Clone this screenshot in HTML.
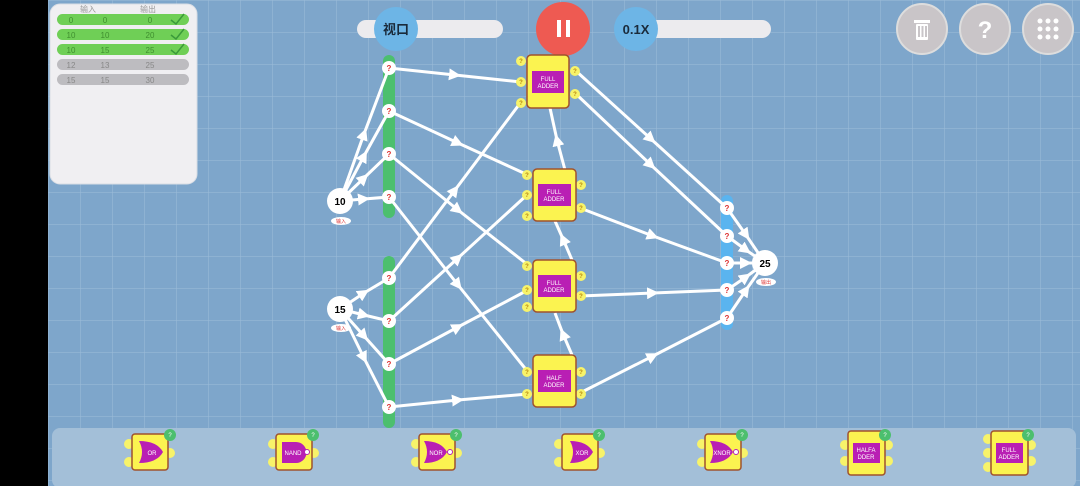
<!DOCTYPE html>
<html><head><meta charset="utf-8"><style>
html,body{margin:0;padding:0;width:1080px;height:486px;overflow:hidden;background:#000;font-family:"Liberation Sans","Noto Sans CJK SC",sans-serif}
</style></head><body>
<svg width="1080" height="486" viewBox="0 0 1080 486" xmlns="http://www.w3.org/2000/svg" font-family="Liberation Sans, Noto Sans CJK SC, sans-serif">
<defs>
<pattern id="g" width="32" height="32" patternUnits="userSpaceOnUse" x="48">
<path d="M0 0V32M0 0H32" stroke="#9dbdd9" stroke-width="1" fill="none"/>
</pattern>
<marker id="ar" viewBox="0 0 10 10" refX="5" refY="5" markerWidth="4" markerHeight="4" orient="auto"><path d="M0 0L10 5L0 10z" fill="#fff"/></marker>
</defs>
<rect x="48" y="0" width="1032" height="486" fill="#7ea6cb"/>
<rect x="48" y="0" width="1032" height="486" fill="url(#g)"/>

<!-- panel -->
<rect x="50" y="4" width="147" height="180" rx="10" fill="#f0eff2" stroke="#d8dde4"/>
<text x="88" y="12" font-size="8" fill="#999" text-anchor="middle">输入</text>
<text x="148" y="12" font-size="8" fill="#999" text-anchor="middle">输出</text>
<g font-size="8" text-anchor="middle">
<rect x="57" y="14" width="132" height="11" rx="5.5" fill="#6fcf56"/>
<text x="71" y="23" fill="#3f8f2f">0</text><text x="105" y="23" fill="#3f8f2f">0</text><text x="150" y="23" fill="#3f8f2f">0</text>
<rect x="57" y="29" width="132" height="11" rx="5.5" fill="#6fcf56"/>
<text x="71" y="38" fill="#3f8f2f">10</text><text x="105" y="38" fill="#3f8f2f">10</text><text x="150" y="38" fill="#3f8f2f">20</text>
<rect x="57" y="44" width="132" height="11" rx="5.5" fill="#6fcf56"/>
<text x="71" y="53" fill="#3f8f2f">10</text><text x="105" y="53" fill="#3f8f2f">15</text><text x="150" y="53" fill="#3f8f2f">25</text>
<rect x="57" y="59" width="132" height="11" rx="5.5" fill="#bdbcc0"/>
<text x="71" y="68" fill="#888">12</text><text x="105" y="68" fill="#888">13</text><text x="150" y="68" fill="#888">25</text>
<rect x="57" y="74" width="132" height="11" rx="5.5" fill="#bdbcc0"/>
<text x="71" y="83" fill="#888">15</text><text x="105" y="83" fill="#888">15</text><text x="150" y="83" fill="#888">30</text>
</g>
<g stroke="#3a9a3a" stroke-width="1.5" fill="none">
<path d="M171 20l5 4l8-10"/><path d="M171 35l5 4l8-10"/><path d="M171 50l5 4l8-10"/>
</g>

<!-- top bar -->
<rect x="357" y="20" width="146" height="18" rx="9" fill="#ecebee"/>
<circle cx="396" cy="29" r="22" fill="#6db5e6"/>
<text x="396" y="34" font-size="13" font-weight="bold" text-anchor="middle" fill="#1a2a3a">视口</text>
<circle cx="563" cy="29" r="27" fill="#ee5a52"/>
<rect x="557" y="20" width="4" height="17" fill="#fff"/><rect x="566" y="20" width="4" height="17" fill="#fff"/>
<rect x="620" y="20" width="151" height="18" rx="9" fill="#ecebee"/>
<circle cx="636" cy="29" r="22" fill="#6db5e6"/>
<text x="636" y="34" font-size="13" font-weight="bold" text-anchor="middle" fill="#1a2a3a">0.1X</text>
<g fill="#c9c5c8" stroke="#ddd" stroke-width="2">
<circle cx="922" cy="29" r="25"/><circle cx="985" cy="29" r="25"/><circle cx="1048" cy="29" r="25"/></g>
<g fill="#fff">
<rect x="914" y="20" width="16" height="3"/><rect x="916" y="24" width="12" height="16" rx="1"/>
<text x="985" y="38" font-size="24" font-weight="bold" text-anchor="middle">?</text>
<g><circle cx="1040" cy="21" r="2.5"/><circle cx="1048" cy="21" r="2.5"/><circle cx="1056" cy="21" r="2.5"/><circle cx="1040" cy="29" r="2.5"/><circle cx="1048" cy="29" r="2.5"/><circle cx="1056" cy="29" r="2.5"/><circle cx="1040" cy="37" r="2.5"/><circle cx="1048" cy="37" r="2.5"/><circle cx="1056" cy="37" r="2.5"/></g>
</g>
<rect x="918" y="26" width="2" height="11" fill="#c9c5c8"/><rect x="921.5" y="26" width="2" height="11" fill="#c9c5c8"/><rect x="925" y="26" width="2" height="11" fill="#c9c5c8"/>

<!-- bars -->
<rect x="383" y="55" width="12" height="163" rx="6" fill="#4cbf6e"/>
<rect x="383" y="256" width="12" height="172" rx="6" fill="#4cbf6e"/>
<rect x="721" y="195" width="12" height="135" rx="6" fill="#5ab4ef"/>

<!-- wires -->
<g stroke="#fff" stroke-width="3" fill="none" marker-mid="url(#ar)">
<path d="M340 201L364 134L389 68"/><path d="M340 201L364 156L389 111"/><path d="M340 201L364 178L389 154"/><path d="M340 201L364 199L389 197"/>
<path d="M340 309L364 293L389 278"/><path d="M340 309L364 315L389 321"/><path d="M340 309L364 336L389 364"/><path d="M340 309L364 358L389 407"/>
<path d="M389 68L455 75L521 82"/><path d="M389 111L458 143L528 175"/><path d="M389 154L458 210L528 265"/><path d="M389 197L458 285L528 372"/>
<path d="M389 278L455 190L521 102"/><path d="M389 321L458 258L528 194"/><path d="M389 364L458 327L528 290"/><path d="M389 407L458 400L528 394"/>
<path d="M576 71L651 139L727 208"/><path d="M576 94L651 165L727 236"/>
<path d="M580 208L653 236L727 263"/><path d="M580 296L653 293L727 290"/><path d="M580 393L653 356L727 318"/>
<path d="M572 355L563 334L555 313"/><path d="M572 260L563 239L555 221"/><path d="M565 170L557 140L550 108"/>
<path d="M727 208L746 235L765 263"/><path d="M727 236L746 250L765 263"/><path d="M727 263L746 263L765 263"/><path d="M727 290L746 277L765 263"/><path d="M727 318L746 290L765 263"/>
</g>

<!-- pins -->
<g fill="#fff" font-size="8" text-anchor="middle">
<circle cx="389" cy="68" r="7"/><circle cx="389" cy="111" r="7"/><circle cx="389" cy="154" r="7"/><circle cx="389" cy="197" r="7"/>
<circle cx="389" cy="278" r="7"/><circle cx="389" cy="321" r="7"/><circle cx="389" cy="364" r="7"/><circle cx="389" cy="407" r="7"/>
<circle cx="727" cy="208" r="7"/><circle cx="727" cy="236" r="7"/><circle cx="727" cy="263" r="7"/><circle cx="727" cy="290" r="7"/><circle cx="727" cy="318" r="7"/>
</g>
<g fill="#d33" font-size="8" text-anchor="middle" font-weight="bold">
<text x="389" y="71">?</text><text x="389" y="114">?</text><text x="389" y="157">?</text><text x="389" y="200">?</text>
<text x="389" y="281">?</text><text x="389" y="324">?</text><text x="389" y="367">?</text><text x="389" y="410">?</text>
<text x="727" y="211">?</text><text x="727" y="239">?</text><text x="727" y="266">?</text><text x="727" y="293">?</text><text x="727" y="321">?</text>
</g>

<!-- io nodes -->
<circle cx="340" cy="201" r="13" fill="#fff"/><text x="340" y="205" font-size="10" font-weight="bold" text-anchor="middle">10</text>
<ellipse cx="341" cy="221" rx="10" ry="4" fill="#fff"/><text x="341" y="223" font-size="5" fill="#d33" text-anchor="middle">输入</text>
<circle cx="340" cy="309" r="13" fill="#fff"/><text x="340" y="313" font-size="10" font-weight="bold" text-anchor="middle">15</text>
<ellipse cx="341" cy="328" rx="10" ry="4" fill="#fff"/><text x="341" y="330" font-size="5" fill="#d33" text-anchor="middle">输入</text>
<circle cx="765" cy="263" r="13" fill="#fff"/><text x="765" y="267" font-size="10" font-weight="bold" text-anchor="middle">25</text>
<ellipse cx="766" cy="282" rx="10" ry="4" fill="#fff"/><text x="766" y="284" font-size="5" fill="#d33" text-anchor="middle">输出</text>

<!-- adders -->
<g font-size="6" text-anchor="middle">
<g transform="translate(527,55)">
<circle cx="-6" cy="6" r="5" fill="#f7f36a"/><circle cx="-6" cy="27" r="5" fill="#f7f36a"/><circle cx="-6" cy="48" r="5" fill="#f7f36a"/><circle cx="48" cy="16" r="5" fill="#f7f36a"/><circle cx="48" cy="39" r="5" fill="#f7f36a"/>
<g fill="#b8860b" font-weight="bold"><text x="-6" y="8">?</text><text x="-6" y="29">?</text><text x="-6" y="50">?</text><text x="48" y="18">?</text><text x="48" y="41">?</text></g>
<rect x="0" y="0" width="42" height="53" rx="4" fill="#fbf350" stroke="#a0522d" stroke-width="1.5"/>
<rect x="5" y="16" width="32" height="22" fill="#b91fb4"/><text x="21" y="26" fill="#fff">FULL</text><text x="21" y="33" fill="#fff">ADDER</text>
</g>
<g transform="translate(533,169)">
<circle cx="-6" cy="6" r="5" fill="#f7f36a"/><circle cx="-6" cy="26" r="5" fill="#f7f36a"/><circle cx="-6" cy="47" r="5" fill="#f7f36a"/><circle cx="48" cy="16" r="5" fill="#f7f36a"/><circle cx="48" cy="39" r="5" fill="#f7f36a"/>
<g fill="#b8860b" font-weight="bold"><text x="-6" y="8">?</text><text x="-6" y="28">?</text><text x="-6" y="49">?</text><text x="48" y="18">?</text><text x="48" y="41">?</text></g>
<rect x="0" y="0" width="43" height="52" rx="4" fill="#fbf350" stroke="#a0522d" stroke-width="1.5"/>
<rect x="5" y="15" width="33" height="22" fill="#b91fb4"/><text x="21" y="25" fill="#fff">FULL</text><text x="21" y="32" fill="#fff">ADDER</text>
</g>
<g transform="translate(533,260)">
<circle cx="-6" cy="6" r="5" fill="#f7f36a"/><circle cx="-6" cy="30" r="5" fill="#f7f36a"/><circle cx="-6" cy="47" r="5" fill="#f7f36a"/><circle cx="48" cy="16" r="5" fill="#f7f36a"/><circle cx="48" cy="36" r="5" fill="#f7f36a"/>
<g fill="#b8860b" font-weight="bold"><text x="-6" y="8">?</text><text x="-6" y="32">?</text><text x="-6" y="49">?</text><text x="48" y="18">?</text><text x="48" y="38">?</text></g>
<rect x="0" y="0" width="43" height="52" rx="4" fill="#fbf350" stroke="#a0522d" stroke-width="1.5"/>
<rect x="5" y="15" width="33" height="22" fill="#b91fb4"/><text x="21" y="25" fill="#fff">FULL</text><text x="21" y="32" fill="#fff">ADDER</text>
</g>
<g transform="translate(533,355)">
<circle cx="-6" cy="17" r="5" fill="#f7f36a"/><circle cx="-6" cy="39" r="5" fill="#f7f36a"/><circle cx="48" cy="17" r="5" fill="#f7f36a"/><circle cx="48" cy="39" r="5" fill="#f7f36a"/>
<g fill="#b8860b" font-weight="bold"><text x="-6" y="19">?</text><text x="-6" y="41">?</text><text x="48" y="19">?</text><text x="48" y="41">?</text></g>
<rect x="0" y="0" width="43" height="52" rx="4" fill="#fbf350" stroke="#a0522d" stroke-width="1.5"/>
<rect x="5" y="15" width="33" height="22" fill="#b91fb4"/><text x="21" y="25" fill="#fff">HALF</text><text x="21" y="32" fill="#fff">ADDER</text>
</g>
</g>

<!-- palette -->
<rect x="52" y="428" width="1024" height="60" rx="8" fill="#a3bfd8"/>
<g font-size="6" text-anchor="middle" fill="#fff">
<g transform="translate(132,434)"><circle cx="-3" cy="10" r="5" fill="#f7f36a"/><circle cx="-3" cy="28" r="5" fill="#f7f36a"/><circle cx="38" cy="19" r="5" fill="#f7f36a"/><rect x="0" y="0" width="36" height="36" rx="3" fill="#fbf350" stroke="#a0522d" stroke-width="1.5"/><path d="M7 7Q25 7 31 18Q25 29 7 29Q13 18 7 7z" fill="#b91fb4"/><text x="20" y="21">OR</text><circle cx="38" cy="1" r="6" fill="#4cbf6e"/><text x="38" y="3">?</text></g>
<g transform="translate(276,434)"><circle cx="-3" cy="10" r="5" fill="#f7f36a"/><circle cx="-3" cy="28" r="5" fill="#f7f36a"/><circle cx="38" cy="19" r="5" fill="#f7f36a"/><rect x="0" y="0" width="36" height="36" rx="3" fill="#fbf350" stroke="#a0522d" stroke-width="1.5"/><path d="M6 8H20A10 10 0 0 1 20 29H6z" fill="#b91fb4"/><text x="17" y="21">NAND</text><circle cx="31" cy="18" r="2.5" fill="#fff" stroke="#b91fb4"/><circle cx="37" cy="1" r="6" fill="#4cbf6e"/><text x="37" y="3">?</text></g>
<g transform="translate(419,434)"><circle cx="-3" cy="10" r="5" fill="#f7f36a"/><circle cx="-3" cy="28" r="5" fill="#f7f36a"/><circle cx="38" cy="19" r="5" fill="#f7f36a"/><rect x="0" y="0" width="36" height="36" rx="3" fill="#fbf350" stroke="#a0522d" stroke-width="1.5"/><path d="M5 7Q22 7 28 18Q22 29 5 29Q11 18 5 7z" fill="#b91fb4"/><text x="17" y="21">NOR</text><circle cx="31" cy="18" r="2.5" fill="#fff" stroke="#b91fb4"/><circle cx="37" cy="1" r="6" fill="#4cbf6e"/><text x="37" y="3">?</text></g>
<g transform="translate(562,434)"><circle cx="-3" cy="10" r="5" fill="#f7f36a"/><circle cx="-3" cy="28" r="5" fill="#f7f36a"/><circle cx="38" cy="19" r="5" fill="#f7f36a"/><rect x="0" y="0" width="36" height="36" rx="3" fill="#fbf350" stroke="#a0522d" stroke-width="1.5"/><path d="M8 7Q25 7 31 18Q25 29 8 29Q14 18 8 7z" fill="#b91fb4"/><text x="20" y="21">XOR</text><circle cx="37" cy="1" r="6" fill="#4cbf6e"/><text x="37" y="3">?</text></g>
<g transform="translate(705,434)"><circle cx="-3" cy="10" r="5" fill="#f7f36a"/><circle cx="-3" cy="28" r="5" fill="#f7f36a"/><circle cx="38" cy="19" r="5" fill="#f7f36a"/><rect x="0" y="0" width="36" height="36" rx="3" fill="#fbf350" stroke="#a0522d" stroke-width="1.5"/><path d="M5 7Q22 7 28 18Q22 29 5 29Q11 18 5 7z" fill="#b91fb4"/><text x="17" y="21">XNOR</text><circle cx="31" cy="18" r="2.5" fill="#fff" stroke="#b91fb4"/><circle cx="37" cy="1" r="6" fill="#4cbf6e"/><text x="37" y="3">?</text></g>
<g transform="translate(848,431)"><circle cx="-3" cy="14" r="5" fill="#f7f36a"/><circle cx="-3" cy="30" r="5" fill="#f7f36a"/><circle cx="40" cy="14" r="5" fill="#f7f36a"/><circle cx="40" cy="30" r="5" fill="#f7f36a"/><rect x="0" y="0" width="37" height="44" rx="3" fill="#fbf350" stroke="#a0522d" stroke-width="1.5"/><rect x="5" y="12" width="27" height="20" fill="#b91fb4"/><text x="18" y="21">HALFA</text><text x="18" y="28">DDER</text><circle cx="37" cy="4" r="6" fill="#4cbf6e"/><text x="37" y="6">?</text></g>
<g transform="translate(991,431)"><circle cx="-3" cy="8" r="5" fill="#f7f36a"/><circle cx="-3" cy="22" r="5" fill="#f7f36a"/><circle cx="-3" cy="36" r="5" fill="#f7f36a"/><circle cx="40" cy="14" r="5" fill="#f7f36a"/><circle cx="40" cy="30" r="5" fill="#f7f36a"/><rect x="0" y="0" width="37" height="44" rx="3" fill="#fbf350" stroke="#a0522d" stroke-width="1.5"/><rect x="5" y="12" width="27" height="20" fill="#b91fb4"/><text x="18" y="21">FULL</text><text x="18" y="28">ADDER</text><circle cx="37" cy="4" r="6" fill="#4cbf6e"/><text x="37" y="6">?</text></g>
</g>
</svg>
</body></html>
